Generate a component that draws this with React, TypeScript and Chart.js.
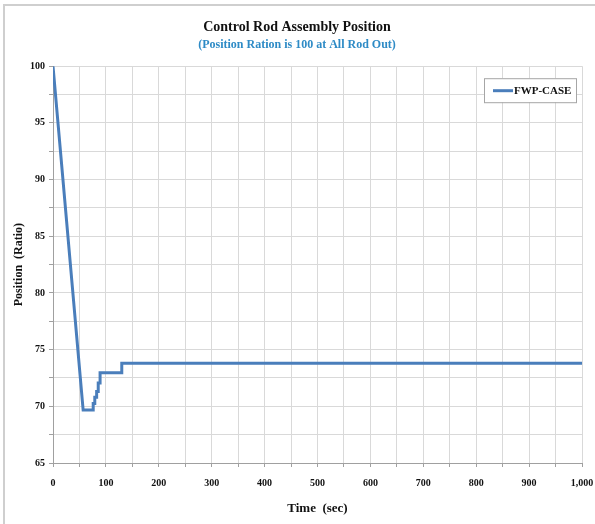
import React, { useEffect, useRef } from "react";
import { Chart, registerables } from "chart.js";

Chart.register(...registerables);

const times = [0, 57, 76, 76, 79, 79, 82.5, 82.5, 85.5, 85.5, 89, 89, 92, 92, 130, 130, 1000];
const positions = [100, 69.67, 69.67, 70.25, 70.25, 70.8, 70.8, 71.3, 71.3, 72.05, 72.05, 72.95, 72.95, 72.95, 72.95, 73.8, 73.8];
const seriesName = "FWP-CASE";
const titleText = "Control Rod Assembly Position";
const subtitleText = "(Position Ration is 100 at All Rod Out)";
const xTitle = "Time  (sec)";
const yTitle = "Position  (Ratio)";

const FONT = "'Liberation Serif', 'DejaVu Serif', serif";
const LINE_COLOR = "#4a7ebb";

const framePlugin = {
  id: "frame",
  beforeDraw(chart: any) {
    const ctx = chart.ctx;
    ctx.save();
    ctx.fillStyle = "#ffffff";
    ctx.fillRect(0, 0, chart.width, chart.height);
    ctx.strokeStyle = "#cfcfcf";
    ctx.lineWidth = 2;
    ctx.beginPath();
    ctx.moveTo(4, chart.height);
    ctx.lineTo(4, 5);
    ctx.lineTo(chart.width, 5);
    ctx.stroke();
    ctx.restore();
  },
};

const legendPlugin = {
  id: "boxLegend",
  afterDraw(chart: any) {
    const ctx = chart.ctx;
    const area = chart.chartArea;
    const w = 92;
    const h = 24;
    const x = area.right - 6 - w;
    const y = area.top + 12;
    ctx.save();
    ctx.fillStyle = "#ffffff";
    ctx.fillRect(x, y, w, h);
    ctx.strokeStyle = "#a6a6a6";
    ctx.lineWidth = 1;
    ctx.strokeRect(x + 0.5, y + 0.5, w, h);
    ctx.strokeStyle = LINE_COLOR;
    ctx.lineWidth = 3;
    ctx.beginPath();
    ctx.moveTo(x + 9, y + h / 2 + 0.5);
    ctx.lineTo(x + 29, y + h / 2 + 0.5);
    ctx.stroke();
    ctx.fillStyle = "#111111";
    ctx.font = `bold 11px ${FONT}`;
    ctx.textBaseline = "middle";
    ctx.textAlign = "left";
    ctx.fillText(seriesName, x + 30, y + h / 2 + 1);
    ctx.restore();
  },
};

export default function App() {
  const ref = useRef<HTMLCanvasElement>(null);
  useEffect(() => {
    document.body.style.margin = "0";
    const canvas = ref.current!;
    const chart = new Chart(canvas, {
      type: "line",
      data: {
        datasets: [
          {
            label: seriesName,
            data: times.map((t, i) => ({ x: t, y: positions[i] })),
            borderColor: LINE_COLOR,
            borderWidth: 3,
            pointRadius: 0,
            tension: 0,
            fill: false,
          },
        ],
      },
      options: {
        animation: false,
        responsive: false,
        layout: { padding: { top: 13, left: 12, right: 13, bottom: 8 } },
        plugins: {
          legend: { display: false },
          tooltip: { enabled: false },
          title: {
            display: true,
            text: titleText,
            color: "#111111",
            font: { family: FONT, size: 14, weight: "bold" },
            padding: { top: 6, bottom: 2 },
          },
          subtitle: {
            display: true,
            text: subtitleText,
            color: "#2e8bc6",
            font: { family: FONT, size: 12, weight: "bold" },
            padding: { top: 0, bottom: 14 },
          },
        },
        scales: {
          x: {
            type: "linear",
            min: 0,
            max: 1000,
            border: { color: "#a0a0a0", width: 1 },
            grid: { color: "#d9d9d9", tickLength: 4, tickColor: "#a0a0a0" },
            ticks: {
              stepSize: 50,
              autoSkip: false,
              maxRotation: 0,
              color: "#111111",
              font: { family: FONT, size: 10, weight: "bold" },
              padding: 10,
              callback: (v: any) => (Number(v) % 100 === 0 ? Number(v).toLocaleString("en-US") : ""),
            },
            title: {
              display: true,
              text: xTitle,
              color: "#111111",
              font: { family: FONT, size: 13, weight: "bold" },
              padding: { top: 6, bottom: 0 },
            },
            afterFit: (s: any) => {
              s.height = 53;
              s.paddingLeft = 0;
              s.paddingRight = 0;
            },
          },
          y: {
            type: "linear",
            min: 65,
            max: 100,
            border: { color: "#a0a0a0", width: 1 },
            grid: { color: "#d9d9d9", tickLength: 4, tickColor: "#a0a0a0" },
            ticks: {
              stepSize: 2.5,
              autoSkip: false,
              color: "#111111",
              font: { family: FONT, size: 10, weight: "bold" },
              padding: 4,
              callback: (v: any) => (Number(v) % 5 === 0 ? String(v) : ""),
            },
            title: {
              display: true,
              text: yTitle,
              color: "#111111",
              font: { family: FONT, size: 12, weight: "bold" },
              padding: { top: 0, bottom: 6 },
            },
            afterFit: (s: any) => {
              s.width = 41;
            },
          },
        },
      },
      plugins: [framePlugin, legendPlugin],
    });
    return () => chart.destroy();
  }, []);
  return (
    <div style={{ width: 595, height: 524 }}>
      <canvas ref={ref} width={595} height={524} style={{ display: "block" }} />
    </div>
  );
}
